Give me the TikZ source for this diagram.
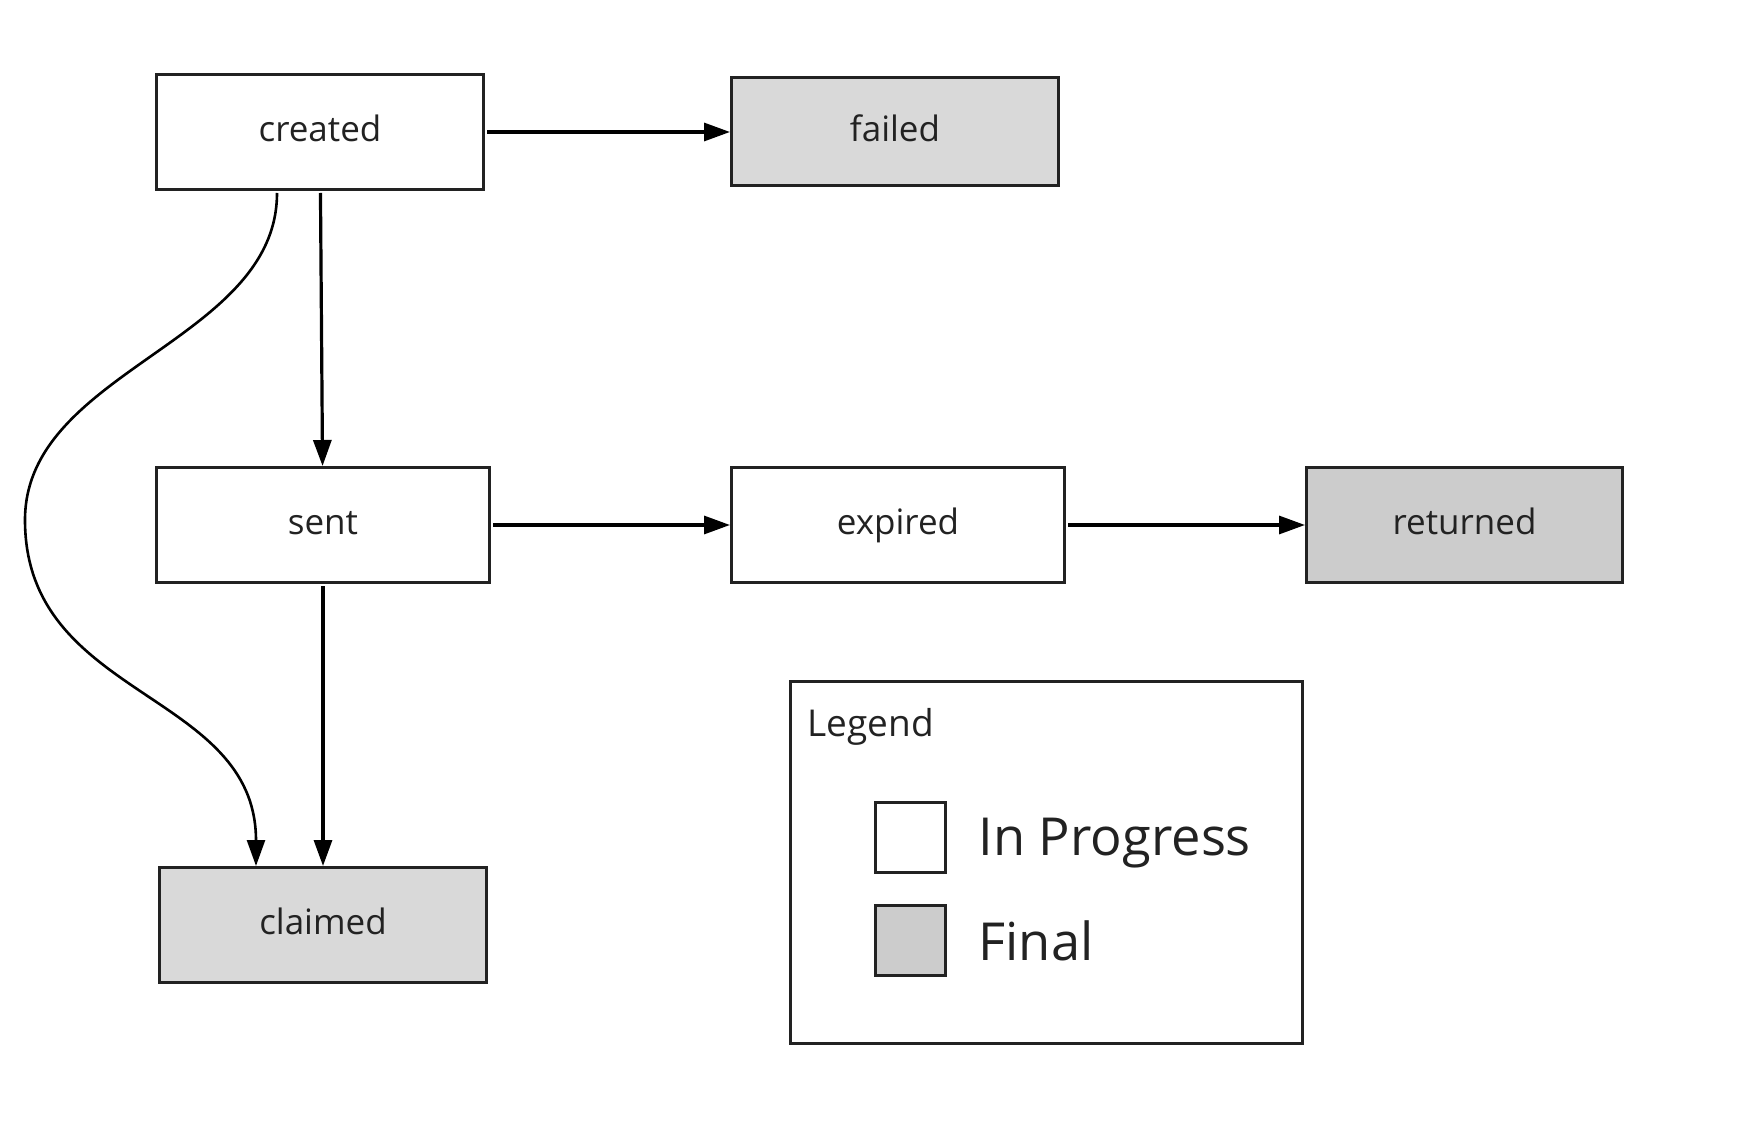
\documentclass[tikz,border=0pt]{standalone}
\usepackage{fontspec}
\setmainfont{Open Sans}
\usetikzlibrary{positioning,arrows.meta}
\definecolor{ink}{HTML}{222222}
\definecolor{lightgrey}{HTML}{D9D9D9}
\definecolor{midgrey}{HTML}{CCCCCC}

\begin{document}
\begin{tikzpicture}[x=0.5pt,y=-0.5pt,shorten <=1pt,node distance=287.5pt,on grid,->,>={Triangle[length=13pt,width=9pt]},line width=1.6pt,
	stbox/.style={draw=ink,line width=1.5pt,text=ink,font=\fontsize{17.5pt}{21pt}\selectfont,minimum width=163.5pt,minimum height=57.5pt,inner sep=0pt,text height=13.1pt,text depth=3.5pt},
	finalbox/.style={stbox,fill=lightgrey},
	keybox/.style={draw=ink,line width=1.5pt,minimum size=35pt,inner sep=0pt},
	keytext/.style={anchor=base west,inner sep=0pt,text=ink,font=\fontsize{26.2pt}{32pt}\selectfont}]
		\useasboundingbox (0,0) rectangle (1744,1122);
		\node[stbox](created) at (320,132){created};
		\node[finalbox,minimum height=54pt](failed)[right=of created]{failed};
		\node[stbox,minimum width=166.5pt](sent)[below=196.5pt of created,xshift=1.5pt]{sent};
		\node[stbox,minimum width=166.5pt](expired)[right=of sent]{expired};
		\node[finalbox,minimum width=158pt,fill=midgrey](returned)[right=283.25pt of expired]{returned};
		\node[finalbox](claimed)[below=200pt of sent]{claimed};

		\path
		(created) edge (failed)
		(created) edge (sent)
		(sent) edge (expired)
		(expired) edge (returned)
		(sent) edge (claimed);

		% created straight to claimed, swinging out to the left
		\coordinate (swing) at (25,520);
		\draw[line width=1.3pt] ([xshift=-21.5pt]created.south) .. controls +(0,151) and +(0,-150) .. (swing)
			.. controls +(0,180) and +(0,-176) .. ([xshift=-33.5pt]claimed.north);

		% legend
		\node[draw=ink,line width=1.5pt,minimum width=256pt,minimum height=181pt](legend) at (1046.5,862){};
		\node[anchor=base west,inner sep=0pt,text=ink,font=\fontsize{18.5pt}{22pt}\selectfont](legendtitle) at (806,736){Legend};
		\node[keybox](keyprog) at (910.5,837){};
		\node[keybox,fill=midgrey](keyfinal) at (910.5,940){};
		\node[keytext](progtext) at (977,855){In Progress};
		\node[keytext](finaltext) at (977,960){Final};
	\end{tikzpicture}
\end{document}
